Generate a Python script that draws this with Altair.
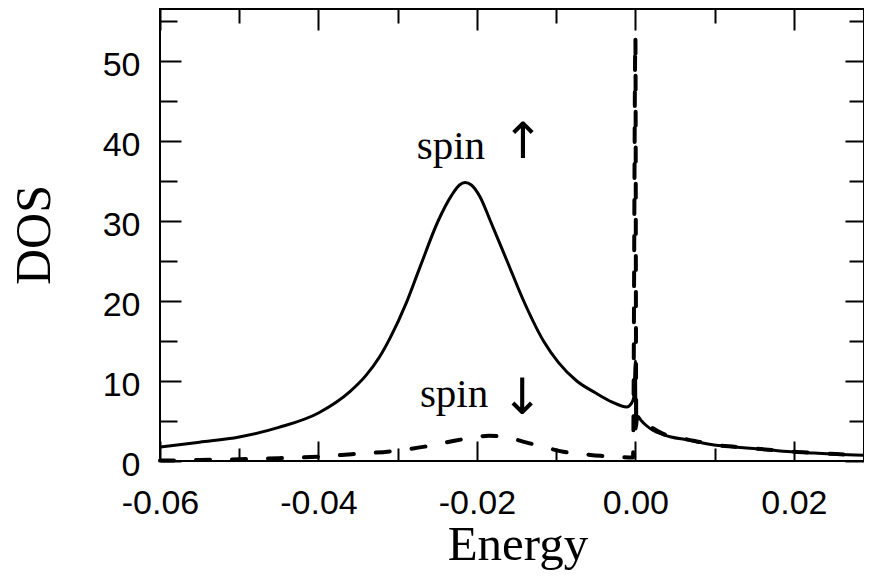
import altair as alt
import pandas as pd

# ---- data ----
up_e = [-0.0600, -0.0550, -0.0500, -0.0450, -0.0400, -0.0360, -0.0340, -0.0323, -0.0310,
        -0.0289, -0.0272, -0.0249, -0.0232, -0.0222, -0.0215, -0.0207, -0.0196, -0.0183,
        -0.0162, -0.0141, -0.0116, -0.0097, -0.0074, -0.0050, -0.0030, -0.0011, -0.0005,
        -0.0002, 0.0000, 0.00008, 0.0003, 0.0007, 0.0013, 0.0022, 0.0035, 0.0045, 0.0065,
        0.0085, 0.0102, 0.0125, 0.0149, 0.0175, 0.0201, 0.0225, 0.0254, 0.0288]
up_v = [1.75, 2.35, 3.0, 4.2, 6.0, 8.7, 10.7, 13.0, 15.3,
        19.8, 24.2, 30.0, 33.2, 34.5, 34.8, 34.5, 33.0, 30.0,
        25.0, 20.0, 15.0, 12.3, 10.0, 8.5, 7.4, 6.75, 7.2,
        8.0, 12.5, 4.0, 5.6, 5.1, 4.5, 3.85, 3.3, 3.0, 2.65,
        2.25, 1.96, 1.75, 1.55, 1.33, 1.13, 1.0, 0.84, 0.72]

dn_e = [-0.0600, -0.0550, -0.0500, -0.0450, -0.0400, -0.0358, -0.0310, -0.0266, -0.0230,
        -0.0213, -0.0185, -0.0165, -0.0137, -0.0110, -0.0091, -0.0065, -0.0044, -0.0020,
        -0.0003, 0.0000, 0.0001, 0.0007, 0.0013, 0.0022, 0.0035, 0.0045, 0.0065, 0.0085,
        0.0102, 0.0125, 0.0149, 0.0175, 0.0201, 0.0225, 0.0254, 0.0288]
dn_v = [0.05, 0.12, 0.22, 0.35, 0.55, 0.85, 1.2, 1.8, 2.5,
        2.8, 3.15, 3.0, 2.3, 1.6, 1.15, 0.85, 0.65, 0.5,
        0.45, 53.0, 5.8, 5.4, 4.9, 4.1, 3.4, 3.05, 2.7, 2.3,
        2.0, 1.78, 1.57, 1.35, 1.15, 1.02, 0.86, 0.74]

spin_text = ["spin", "spin"]
spin_e = [-0.0276, -0.0272]
spin_v = [37.8, 6.8]

arrow_text = ["\u2191", "\u2193"]
arrow_e = [-0.0142, -0.0143]
arrow_v = [39.7, 7.8]

x_major = [-0.06, -0.04, -0.02, 0.0, 0.02]
x_minor = [-0.05, -0.03, -0.01, 0.01]
y_major = [0, 10, 20, 30, 40, 50]
y_minor = [5, 15, 25, 35, 45, 55]

up = pd.DataFrame({"e": up_e, "v": up_v})
dn = pd.DataFrame({"e": dn_e, "v": dn_v})
txt = pd.DataFrame({"e": spin_e, "v": spin_v, "t": spin_text})
arr = pd.DataFrame({"e": arrow_e, "v": arrow_v, "t": arrow_text})

xs = alt.Scale(domain=[-0.06, 0.02885], nice=False, zero=False)
ys = alt.Scale(domain=[0, 56.5], nice=False, zero=False)


def tick_axis(orient, values, size):
    return alt.Axis(orient=orient, values=values, tickSize=size, offset=-size,
                    domain=False, grid=False, labels=False, ticks=True,
                    tickColor="black", tickWidth=2, title=None)


x_main = alt.Axis(
    orient="bottom", values=x_major, tickSize=20, offset=-20, domain=False, grid=False,
    tickColor="black", tickWidth=2,
    labelFont="Liberation Sans", labelFontSize=34, labelColor="black",
    labelPadding=25, labelBaseline="top", labelFlush=False, labelOverlap=False,
    labelExpr="replace(format(datum.value, '.2f'), '\u2212', '-')",
    title="Energy", titleFont="Liberation Serif", titleFontSize=49,
    titleFontWeight="normal", titleColor="black",
    titleX=357.5, titleY=118, titleBaseline="alphabetic", titleAlign="center",
)
y_main = alt.Axis(
    orient="left", values=y_major, tickSize=21, offset=-21, domain=False, grid=False,
    tickColor="black", tickWidth=2,
    labelFont="Liberation Sans", labelFontSize=34, labelColor="black",
    labelPadding=20, labelFlush=False, labelOverlap=False, labelOffset=4, format="d",
    title="DOS", titleFont="Liberation Serif", titleFontSize=50,
    titleFontWeight="normal", titleColor="black", titleAngle=270,
    titleX=-146.5, titleY=225.5, titleBaseline="middle", titleAlign="center",
)

solid = alt.Chart(up).mark_line(color="black", strokeWidth=3, interpolate="monotone").encode(
    x=alt.X("e:Q", scale=xs, axis=x_main),
    y=alt.Y("v:Q", scale=ys, axis=y_main),
)

dashed = alt.Chart(dn).mark_line(color="black", strokeWidth=4, strokeDash=[14, 22],
                                 strokeCap="round", interpolate="monotone").encode(
    x=alt.X("e:Q", scale=xs, axis=tick_axis("top", x_major, 21)),
    y=alt.Y("v:Q", scale=ys, axis=tick_axis("right", y_major, 19)),
)

spins = alt.Chart(txt).mark_text(font="Liberation Serif", fontSize=41, align="left",
                                 baseline="alphabetic", color="black").encode(
    x=alt.X("e:Q", scale=xs, axis=tick_axis("bottom", x_minor, 13)),
    y=alt.Y("v:Q", scale=ys, axis=tick_axis("left", y_minor, 17)),
    text="t:N",
)

arrows = alt.Chart(arr).mark_text(font="DejaVu Sans", fontSize=50, align="center",
                                  baseline="middle", color="black").encode(
    x=alt.X("e:Q", scale=xs, axis=tick_axis("top", x_minor, 14)),
    y=alt.Y("v:Q", scale=ys, axis=tick_axis("right", y_minor, 15)),
    text="t:N",
)

chart = alt.layer(solid, dashed, spins, arrows).resolve_axis(
    x="independent", y="independent"
).properties(
    width=704, height=452,
    padding={"left": 152, "top": 1, "right": 0, "bottom": 110},
    autosize=alt.AutoSizeParams(type="none"),
    background="white",
).configure_view(stroke="black", strokeWidth=2)

chart.save("out.html", embed_options={"renderer": "svg", "actions": False})
